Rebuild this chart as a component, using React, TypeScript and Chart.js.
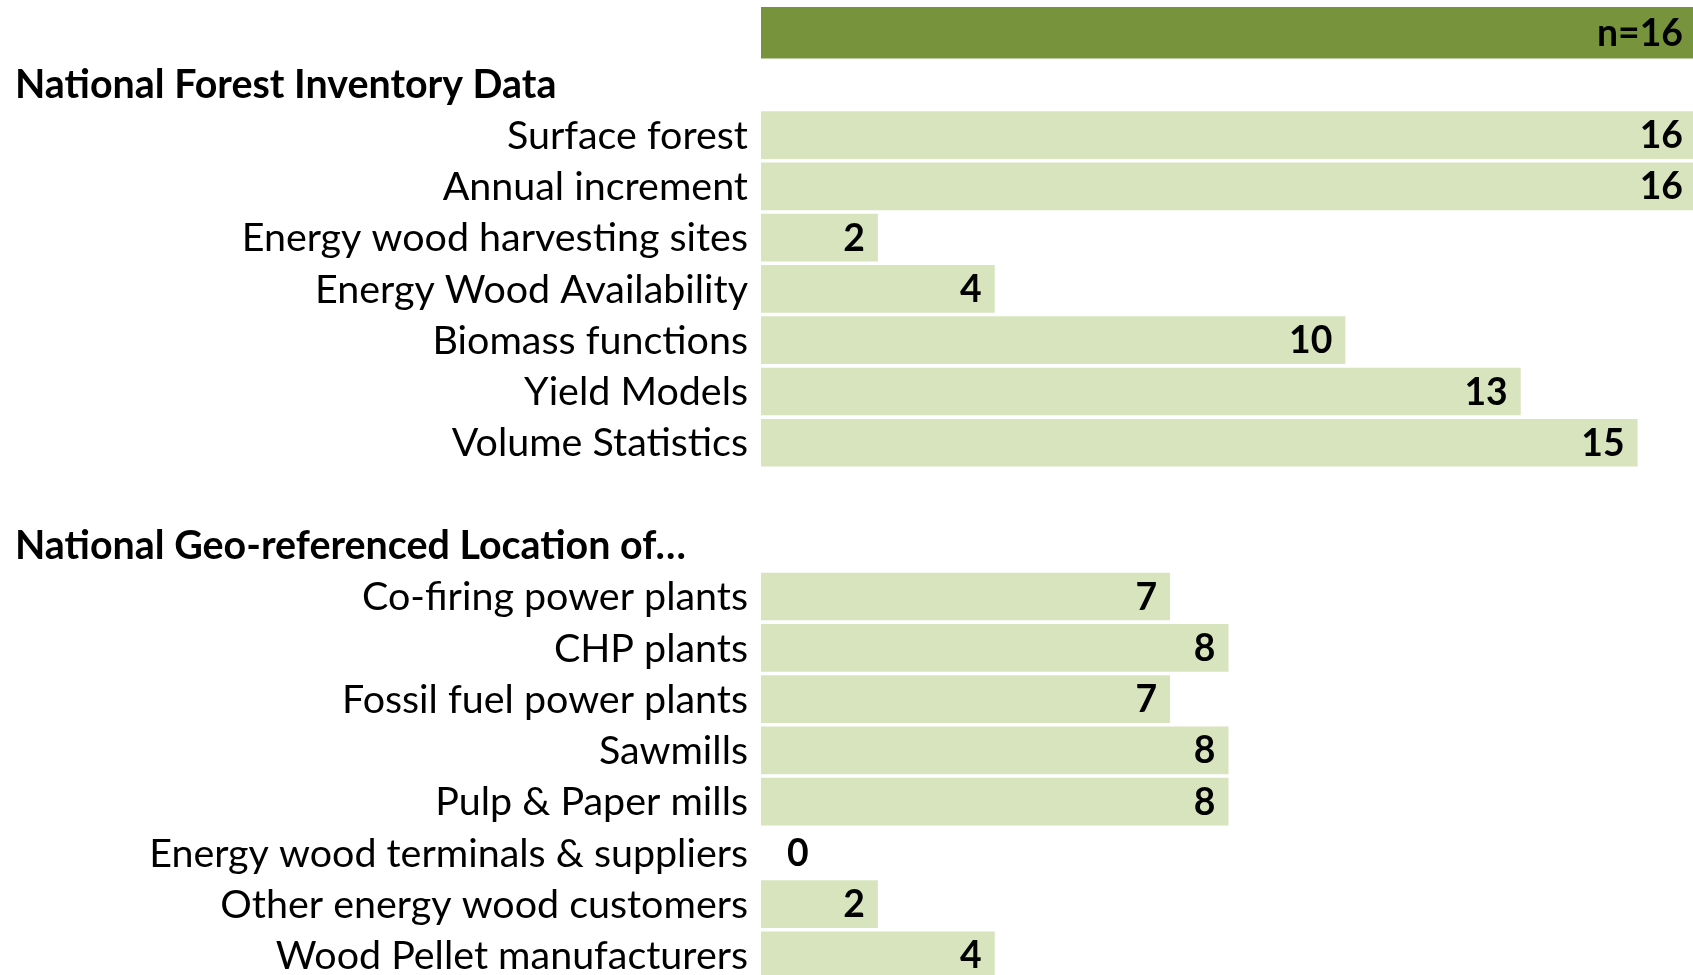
import React, { useEffect, useRef } from "react";
import { Chart, registerables } from "chart.js";

Chart.register(...registerables);

// ---- data ----
const categories: string[] = [
  "",
  "",
  "Surface forest",
  "Annual increment",
  "Energy wood harvesting sites",
  "Energy Wood Availability",
  "Biomass functions",
  "Yield Models",
  "Volume Statistics",
  "",
  "",
  "Co-firing power plants",
  "CHP plants",
  "Fossil fuel power plants",
  "Sawmills",
  "Pulp & Paper mills",
  "Energy wood terminals & suppliers",
  "Other energy wood customers",
  "Wood Pellet manufacturers",
];

const totalValues: (number | null)[] = [
  16, null, null, null, null, null, null, null, null, null,
  null, null, null, null, null, null, null, null, null,
];

const itemValues: (number | null)[] = [
  null, null, 16, 16, 2, 4, 10, 13, 15, null,
  null, 7, 8, 7, 8, 8, 0, 2, 4,
];

const headingIndex: number[] = [1, 10];
const headingText: string[] = [
  "National Forest Inventory Data",
  "National Geo-referenced Location of…",
];
const totalLabel = "n=16";
const axisMin = 0;
const axisMax = 16;

// ---- styles ----
const FAMILY = "Lato";
const DARK = "#77933C";
const LIGHT = "#D7E4BD";
const TEXT_SHIFT = 1;

function fitSize(text: string, weight: string, target: number): number {
  const c = document.createElement("canvas").getContext("2d")!;
  c.font = `${weight} 100px ${FAMILY}`;
  return (100 * target) / c.measureText(text).width;
}

export default function App() {
  const ref = useRef<HTMLCanvasElement | null>(null);

  useEffect(() => {
    const canvas = ref.current;
    if (!canvas) return;
    const labelSize = fitSize("Energy wood terminals & suppliers", "normal", 599);
    const headSize = fitSize("National Geo-referenced Location of…", "bold", 671);
    const valueSize = fitSize(totalLabel, "bold", 86);

    const labelPlugin = {
      id: "labels",
      afterDatasetsDraw(chart: any) {
        const ctx = chart.ctx;
        const y = chart.scales.y;
        ctx.save();
        ctx.fillStyle = "#000";
        ctx.textBaseline = "middle";
        ctx.font = `bold ${headSize}px ${FAMILY}`;
        ctx.textAlign = "left";
        headingIndex.forEach((idx, k) => {
          ctx.fillText(headingText[k], 15, y.getPixelForValue(idx) + TEXT_SHIFT);
        });
        ctx.font = `bold ${valueSize}px ${FAMILY}`;
        chart.data.datasets.forEach((ds: any, di: number) => {
          const meta = chart.getDatasetMeta(di);
          meta.data.forEach((bar: any, i: number) => {
            const v = ds.data[i];
            if (v === null || v === undefined) return;
            const text = di === 0 ? totalLabel : String(v);
            if (v === 0) {
              ctx.textAlign = "left";
              ctx.fillText(text, bar.base + 26, bar.y + TEXT_SHIFT);
            } else {
              ctx.textAlign = "right";
              ctx.fillText(text, bar.x - 13, bar.y + TEXT_SHIFT);
            }
          });
        });
        ctx.restore();
      },
    };

    const chart = new Chart(canvas, {
      type: "bar",
      data: {
        labels: categories,
        datasets: [
          {
            data: totalValues as any,
            backgroundColor: DARK,
            borderWidth: 0,
            barPercentage: 1,
            categoryPercentage: 1,
            grouped: false,
          } as any,
          {
            data: itemValues as any,
            backgroundColor: LIGHT,
            borderWidth: 0,
            barPercentage: 0.93,
            categoryPercentage: 1,
            grouped: false,
          } as any,
        ],
      },
      options: {
        indexAxis: "y",
        animation: false,
        responsive: false,
        events: [],
        layout: { padding: { top: 7, right: 0, bottom: 0, left: 0 } },
        plugins: {
          legend: { display: false },
          tooltip: { enabled: false },
        },
        scales: {
          x: {
            type: "linear",
            min: axisMin,
            max: axisMax,
            display: false,
          },
          y: {
            type: "category",
            position: "left",
            grid: { display: false, drawTicks: false },
            border: { display: false },
            ticks: {
              autoSkip: false,
              padding: 13,
              labelOffset: TEXT_SHIFT,
              color: "#000",
              font: { family: FAMILY, size: labelSize, weight: "normal" },
            },
            afterFit: (scale: any) => {
              scale.width = 761;
              scale.paddingTop = 0;
              scale.paddingBottom = 0;
            },
          },
        },
      },
      plugins: [labelPlugin],
    });
    return () => chart.destroy();
  }, []);

  return (
    <div
      style={{
        position: "fixed",
        left: 0,
        top: 0,
        width: 1693,
        height: 975,
        overflow: "hidden",
        background: "#fff",
      }}
    >
      <canvas
        ref={ref}
        width={1696}
        height={981}
        style={{ position: "absolute", left: 0, top: 0, width: 1696, height: 981 }}
      />
    </div>
  );
}
